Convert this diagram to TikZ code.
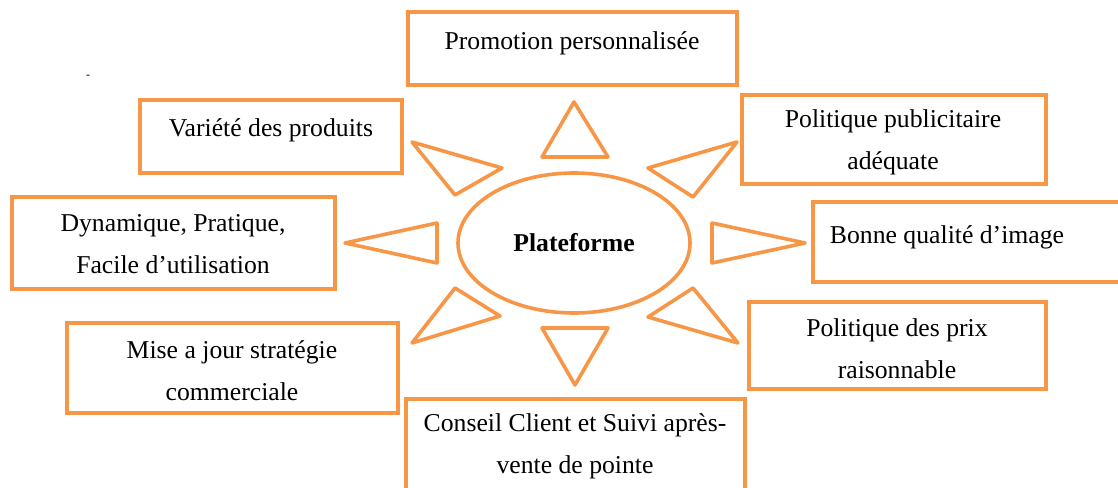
\documentclass[tikz,border=0pt]{standalone}
\usepackage{fontspec}
\setmainfont{Liberation Serif}
\usetikzlibrary{shapes.geometric}
\definecolor{ora}{HTML}{F79646}
\begin{document}
\begin{tikzpicture}[x=0.5pt,y=-0.5pt,
  box/.style={draw=ora,line width=2pt,rectangle,inner sep=0pt,outer sep=0pt},
  lbl/.style={align=center,inner sep=0pt,font=\fontsize{12.85}{21}\selectfont},
  tri/.style={draw=ora,line width=1.8pt,line join=round}]
\useasboundingbox (0,0) rectangle (1118,487);
\clip (0,0) rectangle (1118,487);
% boxes
\node[box,minimum width=164.5pt,minimum height=36.5pt] (promo) at (572.5,48.5) {};
\node[box,minimum width=131pt,minimum height=36.5pt] (vari) at (271,136.5) {};
\node[box,minimum width=161.5pt,minimum height=46pt] (dyna) at (173.5,243) {};
\node[box,minimum width=165.5pt,minimum height=45pt] (mise) at (232.5,368) {};
\node[box,minimum width=169.5pt,minimum height=53pt] (cons) at (575.5,452) {};
\node[box,minimum width=152pt,minimum height=44.5pt] (publ) at (894,139.5) {};
\node[box,minimum width=158.5pt,minimum height=40pt] (bonn) at (971.5,242) {};
\node[box,minimum width=148.5pt,minimum height=43.5pt] (prix) at (897.5,345.5) {};
% labels
\node[lbl] (tpromo) at (572,43) {Promotion personnalisée};
\node[lbl] (tvari) at (271,130) {Variété des produits};
\node[lbl] (tdyna) at (173,244) {Dynamique, Pratique,\\Facile d’utilisation};
\node[lbl] (tmise) at (232,371) {Mise a jour stratégie\\commerciale};
\node[lbl] (tcons) at (575,446) {Conseil Client et Suivi après-\\vente de pointe};
\node[lbl] (tpubl) at (893,142) {Politique publicitaire\\adéquate};
\node[lbl] (tbonn) at (947,237) {Bonne qualité d’image};
\node[lbl] (tprix) at (897,349) {Politique des prix\\raisonnable};
% centre
\node[draw=ora,line width=1.8pt,ellipse,minimum width=116pt,minimum height=70pt,inner sep=0pt,
  font=\fontsize{12.85}{21}\selectfont\bfseries] (plat) at (574,243) {Plateforme};
% rays
\draw[tri] (574,102) -- (542,157) -- (608,157) -- cycle;
\draw[tri] (412,142) -- (502,168) -- (455,195) -- cycle;
\draw[tri] (737,142) -- (648,168) -- (693,197) -- cycle;
\draw[tri] (345,243) -- (437,223) -- (437,263) -- cycle;
\draw[tri] (805,243) -- (712,223) -- (712,263) -- cycle;
\draw[tri] (455,288) -- (500,316) -- (412,343) -- cycle;
\draw[tri] (693,288) -- (648,317) -- (738,343) -- cycle;
\draw[tri] (542,328) -- (608,328) -- (575,385) -- cycle;
% stray mark
\node[inner sep=0pt,font=\fontsize{6}{6}\selectfont] (dot) at (88,77) {-};
\end{tikzpicture}
\end{document}
